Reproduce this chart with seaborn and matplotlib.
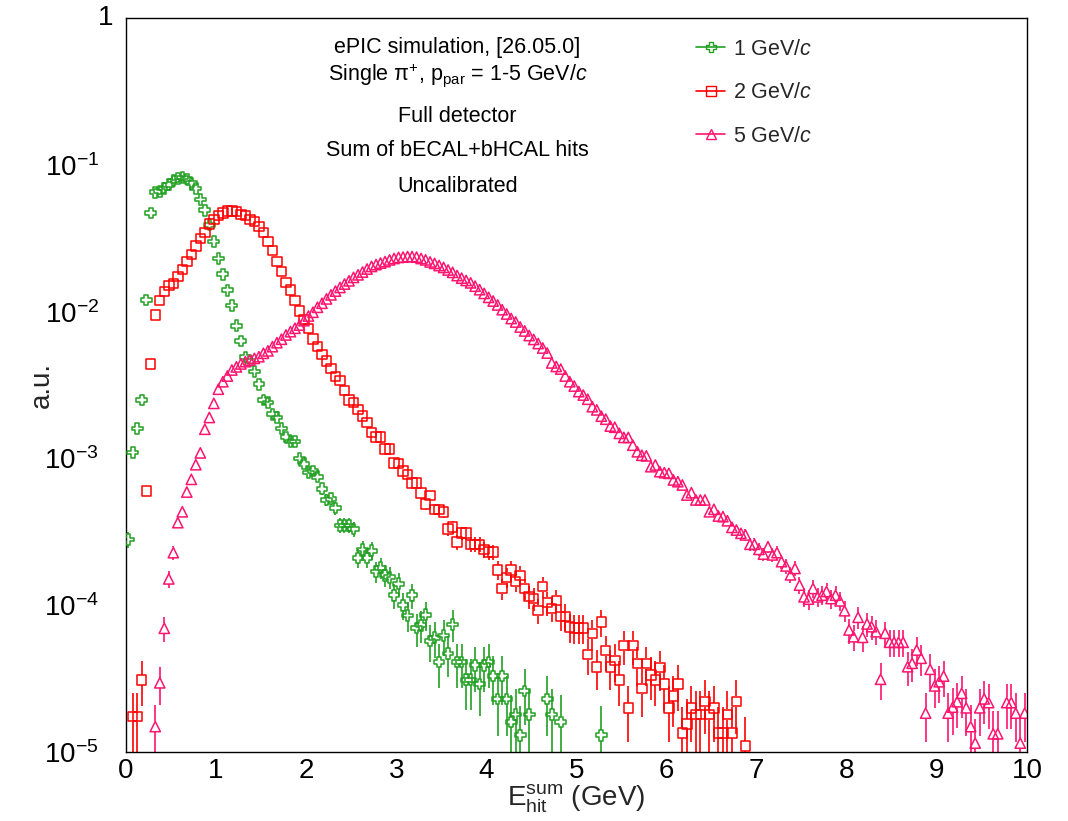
import numpy as np
import pandas as pd
import matplotlib
matplotlib.use("Agg")
import matplotlib.pyplot as plt
import seaborn as sns
from matplotlib.lines import Line2D
from matplotlib.ticker import MultipleLocator, LogLocator, NullFormatter, FuncFormatter

# ---------------- data ----------------
# histogram: 200 bins of 0.05 GeV between 0 and 10 GeV
bin_lo, bin_hi, n_bins = 0.0, 10.0, 200
N = None
# 1 GeV/c, bins k = 0 ...
vals_1gev = [
    2.8e-4, 1.1e-3, 1.6e-3, 2.5e-3, 1.2e-2, 4.7e-2, 6.5e-2, 6.6e-2, 6.9e-2, 7.3e-2,      # 0-9
    7.8e-2, 8.1e-2, 8.2e-2, 8.0e-2, 7.5e-2, 6.9e-2, 5.8e-2, 4.9e-2, 3.9e-2, 3.0e-2,      # 10-19
    2.3e-2, 1.8e-2, 1.4e-2, 1.1e-2, 8.0e-3, 6.3e-3, 4.9e-3, 4.6e-3, 3.9e-3, 3.2e-3,      # 20-29
    2.5e-3, 2.4e-3, 2.0e-3, 1.9e-3, 1.6e-3, 1.4e-3, 1.3e-3, 1.3e-3, 1.0e-3, 9.2e-4,      # 30-39
    8.0e-4, 8.2e-4, 7.5e-4, 6.2e-4, 5.2e-4, 5.3e-4, 4.6e-4, 3.5e-4, 3.5e-4, 3.5e-4,      # 40-49
    3.3e-4, 2.1e-4, 2.4e-4, 2.1e-4, 2.35e-4, 1.7e-4, 1.8e-4, 1.6e-4, 1.55e-4, 1.17e-4,   # 50-59
    1.4e-4, 1.0e-4, 8.5e-5, 1.17e-4, 7.0e-5, 7.3e-5, 8.6e-5, 5.7e-5, 6.0e-5, 4.1e-5,     # 60-69
    6.2e-5, 4.7e-5, 7.4e-5, 4.1e-5, 4.1e-5, 3.1e-5, 3.1e-5, 3.9e-5, 2.9e-5, 3.9e-5,      # 70-79
    4.1e-5, 3.3e-5, 2.3e-5, 3.3e-5, 2.3e-5, 1.6e-5, 1.8e-5, 1.3e-5, 2.6e-5, 1.8e-5,      # 80-89
    N, N, N, 2.3e-5, 1.8e-5, N, 1.6e-5, N, N, N,                                         # 90-99
    N, N, N, N, N, 1.3e-5,                                                                # 100-105
]
# 2 GeV/c
vals_2gev = [
    N, 1.75e-5, 1.75e-5, 3.1e-5, 6.0e-4, 4.4e-3, 9.5e-3, 1.19e-2, 1.37e-2, 1.5e-2,         # 0-9
    1.56e-2, 1.73e-2, 1.94e-2, 2.2e-2, 2.45e-2, 2.8e-2, 3.15e-2, 3.45e-2, 3.95e-2, 4.25e-2,  # 10-19
    4.5e-2, 4.7e-2, 4.85e-2, 4.85e-2, 4.8e-2, 4.6e-2, 4.5e-2, 4.25e-2, 4.1e-2, 3.8e-2,    # 20-29
    3.45e-2, 3.0e-2, 2.6e-2, 2.2e-2, 1.87e-2, 1.58e-2, 1.4e-2, 1.19e-2, 1.01e-2, 8.8e-3,  # 30-39
    7.7e-3, 6.5e-3, 5.8e-3, 5.1e-3, 4.6e-3, 4.1e-3, 3.6e-3, 3.4e-3, 2.9e-3, 2.5e-3,      # 40-49
    2.4e-3, 2.15e-3, 1.95e-3, 1.75e-3, 1.5e-3, 1.4e-3, 1.4e-3, 1.16e-3, 1.16e-3, 9.3e-4, # 50-59
    9.2e-4, 8.2e-4, 7.8e-4, 6.8e-4, 6.8e-4, 5.8e-4, 4.9e-4, 5.6e-4, 4.5e-4, 4.5e-4,      # 60-69
    4.3e-4, 3.3e-4, 3.4e-4, 2.7e-4, 3.1e-4, 3.1e-4, 2.6e-4, 2.6e-4, 2.6e-4, 2.4e-4,      # 70-79
    2.3e-4, 2.3e-4, 1.74e-4, 1.3e-4, 1.55e-4, 1.74e-4, 1.45e-4, 1.6e-4, 1.3e-4, 1.15e-4, # 80-89
    1.11e-4, 9.2e-5, 1.34e-4, 1.04e-4, 9.5e-5, 1.08e-4, 8.4e-5, 8.4e-5, 7.1e-5, 7.0e-5,  # 90-99
    7.0e-5, 7.0e-5, 4.6e-5, 6.4e-5, 3.8e-5, 7.7e-5, 4.9e-5, 3.8e-5, 4.2e-5, 3.1e-5,      # 100-109
    5.3e-5, 2.0e-5, 5.3e-5, 4.0e-5, 2.7e-5, 4.0e-5, 3.35e-5, 3.1e-5, 3.75e-5, 2.9e-5,    # 110-119
    2.0e-5, 2.4e-5, 2.9e-5, 1.35e-5, 1.55e-5, 2.0e-5, 1.8e-5, 1.8e-5, 2.2e-5, 1.8e-5,    # 120-129
    2.0e-5, 1.35e-5, 1.35e-5, 1.8e-5, 1.35e-5, 2.2e-5, N, 1.1e-5,                        # 130-137
]
# 5 GeV/c
vals_5gev = [
    N, N, N, N, N, N, 1.49e-5, 2.96e-5, 6.96e-5, 1.51e-4,                                 # 0-9
    2.28e-4, 3.65e-4, 4.33e-4, 5.9e-4, 7.2e-4, 9.06e-4, 1.09e-3, 1.58e-3, 1.9e-3, 2.37e-3,  # 10-19
    2.96e-3, 3.33e-3, 3.64e-3, 4.0e-3, 4.2e-3, 4.4e-3, 4.56e-3, 4.68e-3, 4.8e-3, 4.93e-3,  # 20-29
    5.2e-3, 5.4e-3, 5.77e-3, 6.14e-3, 6.48e-3, 6.93e-3, 7.3e-3, 7.7e-3, 8.1e-3, 8.67e-3,   # 30-39
    9.33e-3, 9.9e-3, 1.07e-2, 1.14e-2, 1.22e-2, 1.3e-2, 1.38e-2, 1.46e-2, 1.54e-2, 1.62e-2,  # 40-49
    1.71e-2, 1.78e-2, 1.86e-2, 1.95e-2, 2.03e-2, 2.09e-2, 2.14e-2, 2.19e-2, 2.25e-2, 2.3e-2,  # 50-59
    2.34e-2, 2.35e-2, 2.37e-2, 2.37e-2, 2.35e-2, 2.3e-2, 2.25e-2, 2.18e-2, 2.13e-2, 2.06e-2,  # 60-69
    2.0e-2, 1.92e-2, 1.85e-2, 1.76e-2, 1.69e-2, 1.63e-2, 1.57e-2, 1.49e-2, 1.41e-2, 1.33e-2,  # 70-79
    1.25e-2, 1.18e-2, 1.11e-2, 1.03e-2, 9.63e-3, 8.97e-3, 8.49e-3, 7.85e-3, 7.38e-3, 6.87e-3,  # 80-89
    6.46e-3, 6.06e-3, 5.65e-3, 5.22e-3, 4.47e-3, 4.23e-3, 4.06e-3, 3.64e-3, 3.33e-3, 3.11e-3,  # 90-99
    2.85e-3, 2.7e-3, 2.53e-3, 2.25e-3, 2.14e-3, 1.94e-3, 1.85e-3, 1.66e-3, 1.63e-3, 1.48e-3,  # 100-109
    1.39e-3, 1.39e-3, 1.23e-3, 1.11e-3, 1.05e-3, 1.04e-3, 8.78e-4, 9.02e-4, 8.12e-4, 7.99e-4,  # 110-119
    7.91e-4, 7.13e-4, 6.94e-4, 6.59e-4, 5.63e-4, 5.84e-4, 5.21e-4, 5.21e-4, 5.21e-4, 4.33e-4,  # 120-129
    4.5e-4, 4.05e-4, 4.01e-4, 3.76e-4, 3.39e-4, 3.25e-4, 3.09e-4, 3.01e-4, 2.6e-4, 2.6e-4,    # 130-139
    2.4e-4, 2.23e-4, 2.5e-4, 2.2e-4, 2.28e-4, 1.98e-4, 1.85e-4, 1.61e-4, 1.78e-4, 1.37e-4,    # 140-149
    1.14e-4, 1.1e-4, 1.3e-4, 1.14e-4, 1.17e-4, 1.24e-4, 1.11e-4, 1.17e-4, 1.07e-4, 9.17e-5,   # 150-159
    6.78e-5, 6.1e-5, 8.27e-5, 6.04e-5, 7.45e-5, 7.14e-5, 6.6e-5, 3.13e-5, 6.44e-5, 5.59e-5,   # 160-169
    5.59e-5, 5.59e-5, 5.59e-5, 3.81e-5, 4.02e-5, 4.95e-5, 4.35e-5, 1.84e-5, 3.66e-5, 2.82e-5, # 170-179
    3.01e-5, 3.29e-5, 1.84e-5, 2.02e-5, 2.2e-5, 2.51e-5, 2.0e-5, 1.49e-5, 1.15e-5, 2.0e-5,    # 180-189
    2.3e-5, 2.17e-5, 1.33e-5, 1.33e-5, N, 2.17e-5, 2.17e-5, 1.84e-5, 1.15e-5, 1.84e-5,       # 190-199
]
series_labels = ["1 GeV/$c$", "2 GeV/$c$", "5 GeV/$c$"]
# weight of one histogram entry (sets the Poisson error bars)
entry_weight = [4.5e-6, 3.5e-6, 2.5e-6]

text_lines = ["ePIC simulation, [26.05.0]",
              "Single \u03c0$^{+}$, p$_{\\mathrm{par}}$ = 1-5 GeV/$c$",
              "Full detector",
              "Sum of bECAL+bHCAL hits",
              "Uncalibrated"]

# ---------------- style ----------------
sns.set_theme(style="white")
plt.rcParams['font.family'] = ['Liberation Sans', 'DejaVu Sans']
plt.rcParams['mathtext.fontset'] = 'custom'
plt.rcParams['mathtext.rm'] = 'Liberation Sans'
plt.rcParams['mathtext.it'] = 'Liberation Sans:italic'
plt.rcParams['mathtext.bf'] = 'Liberation Sans:bold'
plt.rcParams['mathtext.sf'] = 'Liberation Sans'
plt.rcParams['axes.unicode_minus'] = True

colors = ["#22a022", "#ff0000", "#ff1470"]
markers = ["P", "s", "^"]
msizes = [60, 46, 55]
# half marker height in decades (gap left in the error bar, as ROOT draws it)
gap_dex = 0.036

W, H = 1068, 821
fig = plt.figure(figsize=(W / 100, H / 100), dpi=100)
ax = fig.add_axes([126 / W, 1 - 752 / H, 901 / W, 734 / H])

width = (bin_hi - bin_lo) / n_bins
centers = bin_lo + width * (np.arange(n_bins) + 0.5)

frames = []
for lab, vals in zip(series_labels, [vals_1gev, vals_2gev, vals_5gev]):
    v = np.full(n_bins, np.nan)
    arr = np.array([np.nan if x is None else x for x in vals], dtype=float)
    v[:len(arr)] = arr
    frames.append(pd.DataFrame({"E": centers, "value": v, "series": lab}))
df = pd.concat(frames, ignore_index=True).dropna()

for lab, col, mk, ms, w in zip(series_labels, colors, markers, msizes, entry_weight):
    d = df[df.series == lab]
    x = d["E"].values
    y = d["value"].values
    err = np.sqrt(y * w)
    up_lo = y * 10 ** gap_dex
    up_hi = y + err
    dn_hi = y / 10 ** gap_dex
    dn_lo = np.clip(y - err, 1e-7, None)
    m_up = up_hi > up_lo
    m_dn = dn_lo < dn_hi
    ax.vlines(x[m_up], up_lo[m_up], up_hi[m_up], color=col, lw=1.2, zorder=2)
    ax.vlines(x[m_dn], dn_lo[m_dn], dn_hi[m_dn], color=col, lw=1.2, zorder=2)
    sns.scatterplot(data=d, x="E", y="value", ax=ax, marker=mk, s=ms,
                    color=col, facecolor="none", edgecolor=col, linewidth=1.1,
                    zorder=3, legend=False)

ax.set_yscale("log")
ax.set_xlim(0, 10)
ax.set_ylim(1e-5, 1)

ax.xaxis.set_major_locator(MultipleLocator(1))
ax.xaxis.set_minor_locator(MultipleLocator(0.2))
ax.yaxis.set_major_locator(LogLocator(base=10, numticks=10))
ax.yaxis.set_minor_locator(LogLocator(base=10, subs=np.arange(2, 10), numticks=20))
ax.yaxis.set_minor_formatter(NullFormatter())


def yfmt(val, pos):
    e = int(round(np.log10(val)))
    return "" if e == 0 else r"$10^{%d}$" % e


ax.yaxis.set_major_formatter(FuncFormatter(yfmt))
ax.tick_params(axis="both", which="both", direction="in", top=False, right=False,
               colors="black", labelsize=20, width=1.0)
ax.tick_params(axis="x", which="major", length=15.5, pad=4)
ax.tick_params(axis="x", which="minor", length=7.5)
ax.tick_params(axis="y", which="major", length=19.5, pad=19.5)
ax.tick_params(axis="y", which="minor", length=10)
for sp in ax.spines.values():
    sp.set_visible(True)
    sp.set_color("black")
    sp.set_linewidth(1.0)
# label of the top decade (ROOT places the plain "1" closer to the axis)
ax.text(-0.0145, 1.0, "1", transform=ax.transAxes, ha="right", va="center",
        fontsize=20, color="black")

ax.set_xlabel("E$_{\\mathrm{hit}}^{\\mathrm{sum}}$ (GeV)", fontsize=20)
ax.set_ylabel("a.u.", fontsize=20)
ax.xaxis.set_label_coords(0.5, -0.042)
ax.yaxis.set_label_coords(-0.079, 0.5)

# annotation block
ys = [0.96, 0.922, 0.866, 0.819, 0.771]
for s, yy in zip(text_lines, ys):
    ax.text(0.368, yy, s, transform=ax.transAxes, ha="center", va="center",
            fontsize=15.5, color="black")

handles = [Line2D([0], [0], color=c, marker=m, mfc="none", mec=c, ms=6.5, lw=1.2)
           for c, m in zip(colors, markers)]
ax.legend(handles, series_labels, loc="upper left", bbox_to_anchor=(0.633, 0.972),
          frameon=False, fontsize=15.5, handlelength=1.35, handletextpad=0.35,
          labelspacing=1.05, borderpad=0, borderaxespad=0)

fig.savefig("out.png", dpi=100, facecolor="white")
